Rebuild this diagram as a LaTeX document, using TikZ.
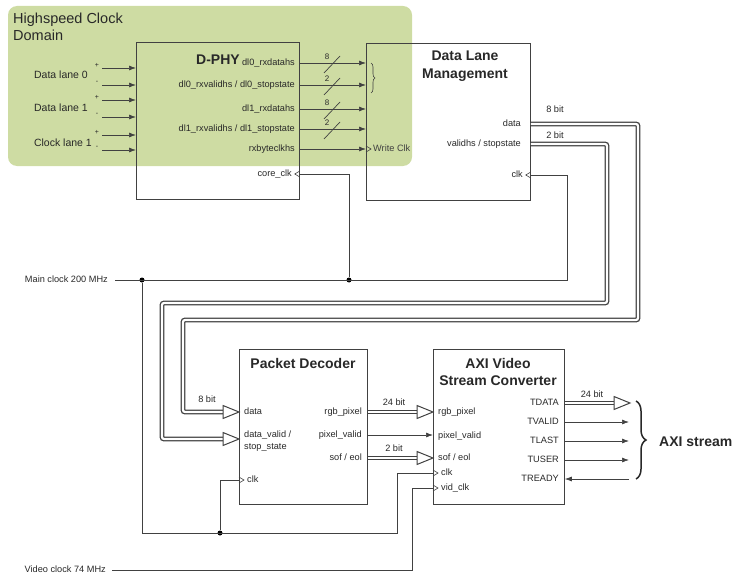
\documentclass[tikz,border=0pt]{standalone}
\usepackage{fontspec}
\setmainfont{Liberation Sans}
\usetikzlibrary{arrows.meta, decorations.pathreplacing}

\definecolor{domaingreen}{RGB}{206,220,163}
\definecolor{linegray}{RGB}{65,65,65}
\definecolor{labelgray}{RGB}{40,40,40}

\tikzset{
  blk/.style={draw=linegray, line width=0.8pt, inner sep=0pt},
  ttl/.style={font=\bfseries\fontsize{14}{17.5}\selectfont, align=center, text=labelgray, inner sep=0pt},
  lbl/.style={font=\fontsize{9.2}{11.5}\selectfont, text=labelgray, inner sep=0pt, text height=7pt, text depth=2pt},
  lane/.style={font=\fontsize{10.5}{12}\selectfont, text=labelgray, inner sep=0pt},
  tiny/.style={font=\fontsize{7}{8}\selectfont, text=labelgray, inner sep=0pt},
  sig/.style={draw=linegray, line width=0.7pt, -{Latex[length=7pt,width=5pt]}},
  clkln/.style={draw=linegray, line width=0.7pt},
  bus/.style={draw=linegray, line width=1.3pt, double=white, double distance=2.2pt, rounded corners=2pt},
  dot/.style={circle, fill=black, inner sep=0pt, minimum size=5pt},
  bushead/.pic={\draw[linegray, fill=white, line width=1pt, line join=miter] (0,0) -- (-16,6.5) -- (-16,-6.5) -- cycle;},
  clkin/.pic={\draw[linegray, line width=0.6pt] (0,-3) -- (5,0) -- (0,3);},
}

\begin{document}
\begin{tikzpicture}[x=1pt, y=-1pt]
\useasboundingbox (0,0) rectangle (736,575);

\fill[domaingreen, rounded corners=9pt] (8,6) rectangle (412,166);
\node[anchor=north west, align=left, inner sep=0pt, text=labelgray,
      font=\fontsize{14.5}{16.5}\selectfont] (hsdomain) at (13,13) {Highspeed Clock\\Domain};

% blocks
\node[blk, anchor=north west, minimum width=163pt, minimum height=157pt] (dphy) at (136,42) {};
\node[blk, anchor=north west, minimum width=164pt, minimum height=157pt] (dlm) at (366,43) {};
\node[blk, anchor=north west, minimum width=128pt, minimum height=155pt] (pdec) at (239,349) {};
\node[blk, anchor=north west, minimum width=131pt, minimum height=155pt] (axi) at (433,349) {};

\node[ttl] (dphyttl) at (218,60) {D-PHY};
\node[ttl] (dlmttl) at (465,66) {Data Lane\\Management};
\node[ttl] (pdecttl) at (303,363) {Packet Decoder};
\node[ttl] (axittl) at (498,372) {AXI Video\\Stream Converter};

% D-PHY lanes
\node[lane, anchor=east] (lane0) at (88,75) {Data lane 0};
\node[lane, anchor=east] (lane1) at (88,108) {Data lane 1};
\node[lane, anchor=east] (lanec) at (92,143) {Clock lane 1};
\foreach \y/\s in {68/+, 85/-, 100/+, 117/-, 135/+, 150/-} {
  \coordinate (in\y) at (102,\y);
  \draw[sig] (in\y) -- (dphy.west |- in\y);
  \node[tiny] at (97,\y-3) {\s};
}

% D-PHY outputs
\node[lbl, anchor=east] (d0data) at (295,63) {dl0\_rxdatahs};
\node[lbl, anchor=east] (d0vld) at (295,85) {dl0\_rxvalidhs / dl0\_stopstate};
\node[lbl, anchor=east] (d1data) at (295,109) {dl1\_rxdatahs};
\node[lbl, anchor=east] (d1vld) at (295,129) {dl1\_rxvalidhs / dl1\_stopstate};
\node[lbl, anchor=east] (bclk) at (295,149) {rxbyteclkhs};
\node[lbl, anchor=east] (coreclk) at (292,174) {core\_clk};
\foreach \y/\w in {63/8, 85/2, 109/8, 129/2} {
  \draw[sig] (dphy.east |- 0,\y) -- (dlm.west |- 0,\y);
  \draw[linegray, line width=0.7pt] (324,\y+10) -- (340,\y-7);
  \node[tiny, font=\fontsize{8}{9}\selectfont] at (327,\y-6) {\w};
}
\draw[sig] (dphy.east |- bclk) -- (dlm.west |- bclk);
\pic at (dlm.west |- bclk) {clkin};
\node[lbl, anchor=west, text=linegray] (wrclk) at (373,149) {Write Clk};
\draw[linegray, line width=0.6pt, decorate, decoration={brace, amplitude=4pt}] (371,63) -- (371,93);

% Data Lane Management ports
\node[lbl, anchor=east] (dlmdata) at (521,124) {data};
\node[lbl, anchor=east] (dlmvld) at (521,144) {validhs / stopstate};
\node[lbl, anchor=east] (dlmclk) at (523,175) {clk};

% buses down to the decoder
\draw[bus] (dlm.east |- dlmdata) -- (638,124) -- (638,320) -- (183,320) -- (183,412) -- (224,412);
\draw[bus] (dlm.east |- dlmvld) -- (607,144) -- (607,303) -- (162,303) -- (162,439) -- (224,439);
\node[lbl] (w8a) at (555,110) {8 bit};
\node[lbl] (w2a) at (555,136) {2 bit};
\node[lbl] (w8b) at (207,400) {8 bit};

% Packet Decoder ports
\node[lbl, anchor=west] (pdata) at (244,412) {data};
\node[lbl, anchor=west, align=left, text height=, text depth=] (pvld) at (244,441) {data\_valid /\\stop\_state};
\node[lbl, anchor=west] (pclk) at (247,480) {clk};
\node[lbl, anchor=east] (prgb) at (362,412) {rgb\_pixel};
\node[lbl, anchor=east] (ppv) at (362,435) {pixel\_valid};
\node[lbl, anchor=east] (psof) at (362,458) {sof / eol};
\pic at (239,412) {bushead};
\pic at (239,439) {bushead};

% AXI converter ports
\node[lbl, anchor=west] (argb) at (438,412) {rgb\_pixel};
\node[lbl, anchor=west] (apv) at (438,436) {pixel\_valid};
\node[lbl, anchor=west] (asof) at (438,458) {sof / eol};
\node[lbl, anchor=west] (aclk) at (441,473) {clk};
\node[lbl, anchor=west] (avclk) at (441,488) {vid\_clk};

\draw[bus] (pdec.east |- prgb) -- (418,412);
\pic at (axi.west |- prgb) {bushead};
\node[lbl] (w24a) at (394,403) {24 bit};
\draw[sig] (pdec.east |- ppv) -- (axi.west |- ppv);
\draw[bus] (pdec.east |- psof) -- (418,458);
\pic at (axi.west |- psof) {bushead};
\node[lbl] (w2b) at (394,449) {2 bit};

% AXI stream side
\node[lbl, anchor=east] (tdata) at (559,403) {TDATA};
\node[lbl, anchor=east] (tvalid) at (559,422) {TVALID};
\node[lbl, anchor=east] (tlast) at (559,441) {TLAST};
\node[lbl, anchor=east] (tuser) at (559,460) {TUSER};
\node[lbl, anchor=east] (tready) at (559,479) {TREADY};
\draw[bus] (axi.east |- tdata) -- (615,403);
\pic at (630,403) {bushead};
\node[lbl] (w24b) at (592,395) {24 bit};
\foreach \n in {tvalid, tlast, tuser}
  \draw[sig] (axi.east |- \n) -- (629,0 |- \n);
\draw[sig] (629,0 |- tready) -- (axi.east |- tready);
\draw[labelgray, line width=1.5pt, decorate, decoration={brace, amplitude=10pt}] (636,401) -- (636,479);
\node[anchor=west, inner sep=0pt, text=labelgray, font=\bfseries\fontsize{14}{16}\selectfont] (axis) at (659,442) {AXI stream};

% clocks
\node[lbl, anchor=east] (mclk) at (108,280) {Main clock 200 MHz};
\node[lbl, anchor=east] (vclk) at (106,570) {Video clock 74 MHz};
\node[dot] (jmain) at (142,280) {};
\node[dot] (jcore) at (349,280) {};
\node[dot] (jpdec) at (220,533) {};
\coordinate (mclkin) at (115,280);
\coordinate (vclkin) at (112,570);

\draw[clkln] (mclkin) -- (567,280) -- (567,175) -- (dlm.east |- dlmclk);
\pic[rotate=180] at (dlm.east |- dlmclk) {clkin};
\draw[clkln] (jcore) -- (349,174) -- (dphy.east |- coreclk);
\pic[rotate=180] at (dphy.east |- coreclk) {clkin};
\draw[clkln] (jmain) -- (142,533) -- (397,533) -- (397,473) -- (axi.west |- aclk);
\pic at (axi.west |- aclk) {clkin};
\draw[clkln] (jpdec) -- (220,480) -- (pdec.west |- pclk);
\pic at (pdec.west |- pclk) {clkin};
\draw[clkln] (vclkin) -- (412,570) -- (412,488) -- (axi.west |- avclk);
\pic at (axi.west |- avclk) {clkin};
\end{tikzpicture}
\end{document}
